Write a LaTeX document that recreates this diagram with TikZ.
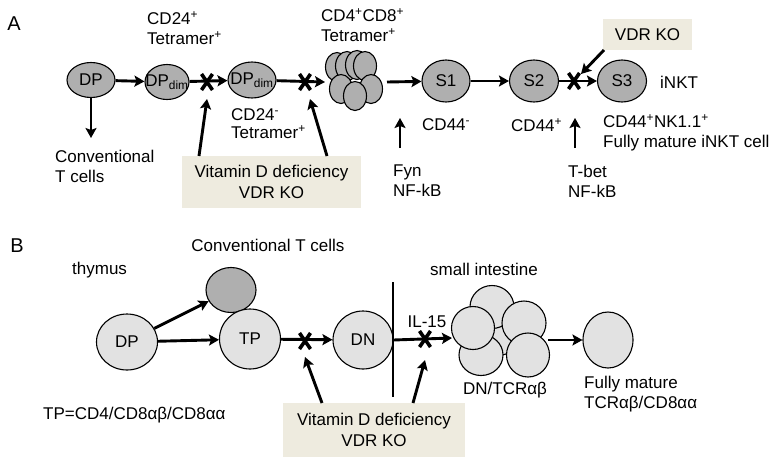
\documentclass[tikz,border=0pt]{standalone}
\usepackage{fontspec}
\setmainfont{Liberation Sans}
\usetikzlibrary{shapes.geometric,arrows.meta}
\definecolor{cellAc}{RGB}{175,175,175}
\definecolor{cellBc}{RGB}{226,226,226}
\definecolor{boxc}{RGB}{238,235,223}
\begin{document}
\begin{tikzpicture}[x=1pt,y=-1pt,
  font=\fontsize{17}{20}\selectfont,
  cA/.style={ellipse,draw,line width=1.1pt,fill=cellAc,inner sep=0pt},
  cB/.style={ellipse,draw,line width=1.1pt,fill=cellBc,inner sep=0pt},
  ar/.style={-{Stealth[length=10pt,width=11pt,inset=2pt]},line width=2.9pt},
  tbox/.style={rectangle,fill=boxc,inner sep=0pt,align=center,font=\fontsize{17}{21}\selectfont},
  txt/.style={inner sep=0pt,align=left},
  xmark/.pic={\draw[line width=3.6pt] (-5.5,-8)--(5.5,8) (-5.5,8)--(5.5,-8);}
]
\useasboundingbox (0,0) rectangle (776,461);

% ---------------- Panel A ----------------
\node[txt,font=\fontsize{20}{20}\selectfont] (labA) at (14,24) {A};

\node[cA,minimum width=48pt,minimum height=35pt,label=center:{DP}] (dp) at (91,80) {};
\node[cA,minimum width=44pt,minimum height=35pt,label=center:{DP\textsubscript{dim}}] (dpd1) at (167,82) {};
\node[cA,minimum width=48pt,minimum height=36pt,label=center:{DP\textsubscript{dim}}] (dpd2) at (252,80) {};

% cluster A
\node[cA,minimum width=23pt,minimum height=29pt] (ca1) at (337,67) {};
\node[cA,minimum width=23pt,minimum height=29pt] (ca2) at (347,66) {};
\node[cA,minimum width=23pt,minimum height=29pt] (ca3) at (357,65) {};
\node[cA,minimum width=23pt,minimum height=29pt] (ca4) at (365,66) {};
\node[cA,minimum width=23pt,minimum height=29pt] (ca5) at (371,89) {};
\node[cA,minimum width=23pt,minimum height=29pt] (ca6) at (341,89) {};
\node[cA,minimum width=23pt,minimum height=29pt] (ca7) at (355,96) {};
\coordinate (clAin) at (325,82);
\coordinate (clAout) at (387,82);

\node[cA,minimum width=48pt,minimum height=42pt,label=center:{S1}] (s1) at (446,81) {};
\node[cA,minimum width=49pt,minimum height=42pt,label=center:{S2}] (s2) at (534,81) {};
\node[cA,minimum width=49pt,minimum height=42pt,label=center:{S3}] (s3) at (622,81) {};

\node[txt,anchor=west] (inkt) at (660,82) {iNKT};

\node[txt,anchor=west] (t24p) at (147,28) {CD24\textsuperscript{+}\\Tetramer\textsuperscript{+}};
\node[txt,anchor=west] (t48) at (321,25) {CD4\textsuperscript{+}CD8\textsuperscript{+}\\Tetramer\textsuperscript{+}};
\node[txt,anchor=west,font=\fontsize{17}{18}\selectfont] (t24m) at (231,124) {CD24\textsuperscript{-}\\Tetramer\textsuperscript{+}};
\node[txt,anchor=west] (conv) at (55,166) {Conventional\\T cells};
\node[txt,anchor=west] (cd44m) at (422,125) {CD44\textsuperscript{-}};
\node[txt,anchor=west] (cd44p) at (511,125) {CD44\textsuperscript{+}};
\node[txt,anchor=west] (cd44nk) at (603,133) {CD44\textsuperscript{+}NK1.1\textsuperscript{+}\\Fully mature iNKT cell};
\node[txt,anchor=west] (fyn) at (393,181) {Fyn\\NF-kB};
\node[txt,anchor=west] (tbet) at (568,181) {T-bet\\NF-kB};

\node[tbox,minimum width=179pt,minimum height=52pt] (vitA) at (271.5,182) {Vitamin D deficiency\\VDR KO};
\node[tbox,minimum width=89pt,minimum height=31pt] (vdrA) at (647.5,34.5) {VDR KO};

% arrows A
\draw[ar] (dp) -- (dpd1);
\draw[ar] (dpd1) -- (dpd2);
\draw[ar] (dpd2) -- (clAin);
\draw[ar] (clAout) -- (s1);
\draw[ar] (s1) -- (s2);
\draw[ar] (s2) -- (s3);
\coordinate (dpdown) at (91,138);
\draw[ar] (dp.south) -- (dpdown);

\coordinate (xa1) at (207,82);
\coordinate (xa2) at (305,82);
\coordinate (xa3) at (574,81);
\pic at (xa1) {xmark};
\pic at (xa2) {xmark};
\pic at (xa3) {xmark};

\coordinate (va1s) at (199,156);
\coordinate (va1e) at (207,99);
\coordinate (va2s) at (327,156);
\coordinate (va2e) at (310,99);
\draw[ar] (va1s) -- (va1e);
\draw[ar] (va2s) -- (va2e);

\coordinate (vdrs) at (604,50);
\coordinate (vdre) at (581,74);
\draw[ar] (vdrs) -- (vdre);

\coordinate (up1s) at (400,148);
\coordinate (up1e) at (400,118);
\coordinate (up2s) at (575,148);
\coordinate (up2e) at (575,118);
\draw[ar] (up1s) -- (up1e);
\draw[ar] (up2s) -- (up2e);

% ---------------- Panel B ----------------
\node[txt,font=\fontsize{20}{20}\selectfont] (labB) at (17,246) {B};
\node[txt] (convB) at (268,245) {Conventional T cells};
\node[txt,anchor=west] (thy) at (72,270) {thymus};

\node[cA,minimum width=50pt,minimum height=45pt] (gB) at (231,290) {};
\node[cB,minimum width=61pt,minimum height=56pt,label=center:{DP}] (dpB) at (127,342) {};
\node[cB,minimum width=61pt,minimum height=60pt,label=center:{TP}] (tpB) at (250,339) {};
\node[cB,minimum width=60pt,minimum height=58pt,label=center:{DN}] (dnB) at (363,340) {};

% cluster B
\node[cB,minimum width=40pt,minimum height=40pt] (cbc) at (500,335) {};
\node[cB,minimum width=44pt,minimum height=43pt] (cb1) at (492,307) {};
\node[cB,minimum width=44pt,minimum height=41pt] (cb4) at (481,355) {};
\node[cB,minimum width=43pt,minimum height=43pt] (cb3) at (473,328) {};
\node[cB,minimum width=44pt,minimum height=44pt] (cb2) at (524,323) {};
\node[cB,minimum width=43pt,minimum height=44pt] (cb5) at (528,355) {};
\coordinate (clBin) at (452,338);
\coordinate (clBout) at (548,340);

\node[cB,minimum width=50pt,minimum height=56pt] (fin) at (608,340) {};

\node[txt] (il15) at (427,322) {IL-15};
\node[txt] (smi) at (484,269) {small intestine};
\node[txt] (dntcr) at (505,390) {DN/TCRαβ};
\node[txt,anchor=west] (fmB) at (584,394) {Fully mature\\TCRαβ/CD8αα};
\node[txt,anchor=west] (tpeq) at (43,415) {TP=CD4/CD8αβ/CD8αα};

\node[tbox,minimum width=182pt,minimum height=54pt] (vitB) at (374,430) {Vitamin D deficiency\\VDR KO};

\coordinate (vlt) at (393,282);
\coordinate (vlb) at (393,397);
\draw[line width=2.9pt] (vlt) -- (vlb);

\draw[ar] (dpB) -- (gB);
\draw[ar] (dpB) -- (tpB);
\draw[ar] (tpB) -- (dnB);
\draw[ar] (dnB.east) -- (clBin);
\draw[ar] (clBout) -- (fin);

\coordinate (xb1) at (305,341);
\coordinate (xb2) at (425,339);
\pic at (xb1) {xmark};
\pic at (xb2) {xmark};

\coordinate (vb1s) at (322,403);
\coordinate (vb1e) at (305,357);
\coordinate (vb2s) at (413,403);
\coordinate (vb2e) at (425,360);
\draw[ar] (vb1s) -- (vb1e);
\draw[ar] (vb2s) -- (vb2e);
\end{tikzpicture}
\end{document}
